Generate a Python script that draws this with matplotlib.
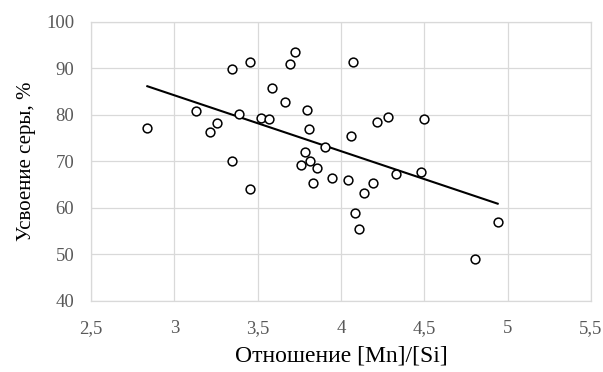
import numpy as np
import matplotlib
matplotlib.use("Agg")
import matplotlib.pyplot as plt
from matplotlib.ticker import FuncFormatter

# Data
ratio_mn_si = [2.838, 3.128, 3.214, 3.258, 3.346, 3.346, 3.390, 3.454, 3.456, 3.522,
               3.568, 3.588, 3.664, 3.692, 3.726, 3.760, 3.786, 3.796, 3.806, 3.814,
               3.834, 3.854, 3.906, 3.946, 4.040, 4.060, 4.072, 4.084, 4.106, 4.136,
               4.190, 4.214, 4.282, 4.328, 4.478, 4.498, 4.802, 4.940]
sulfur_uptake = [77.1, 80.8, 76.2, 78.1, 89.9, 70.0, 80.2, 91.4, 64.1, 79.2,
                 79.1, 85.8, 82.7, 90.9, 93.4, 69.2, 72.0, 81.1, 76.9, 70.1,
                 65.2, 68.6, 73.0, 66.3, 66.0, 75.4, 91.4, 58.9, 55.4, 63.2,
                 65.2, 78.4, 79.4, 67.2, 67.6, 79.1, 49.0, 56.9]
x_ticks = [2.5, 3, 3.5, 4, 4.5, 5, 5.5]
y_ticks = [40, 50, 60, 70, 80, 90, 100]
x_label = "Отношение [Mn]/[Si]"
y_label = "Усвоение серы, %"

plt.rcParams['font.family'] = ['Liberation Serif', 'DejaVu Serif']

fig = plt.figure(figsize=(6.03, 3.72), dpi=100)
ax = fig.add_axes([91/603, 1 - 300.5/372, (591 - 91)/603, (300.5 - 21.7)/372])

x = np.array(ratio_mn_si)
y = np.array(sulfur_uptake)

ax.scatter(x, y, s=40, facecolors='white', edgecolors='black', linewidths=1.1, zorder=3)

slope, intercept = np.polyfit(x, y, 1)
tx = np.array([x.min(), x.max()])
ax.plot(tx, slope * tx + intercept, color='black', linewidth=1.5, zorder=2)

ax.set_xlim(2.5, 5.5)
ax.set_ylim(40, 100)
ax.set_xticks(x_ticks)
ax.set_yticks(y_ticks)
ax.xaxis.set_major_formatter(FuncFormatter(lambda v, p: (f"{v:g}").replace('.', ',')))
ax.grid(True, color='#d9d9d9', linewidth=0.9)
ax.set_axisbelow(True)
for s in ax.spines.values():
    s.set_color('#d9d9d9')
    s.set_linewidth(0.9)
ax.tick_params(length=0, labelsize=13.5, colors='#595959')
ax.tick_params(axis='y', pad=12)
ax.tick_params(axis='x', pad=14)
ax.set_xlabel(x_label, fontsize=17, color='black', labelpad=6)
ax.set_ylabel(y_label, fontsize=15, color='black', labelpad=7)

fig.savefig("out.png", dpi=100)
